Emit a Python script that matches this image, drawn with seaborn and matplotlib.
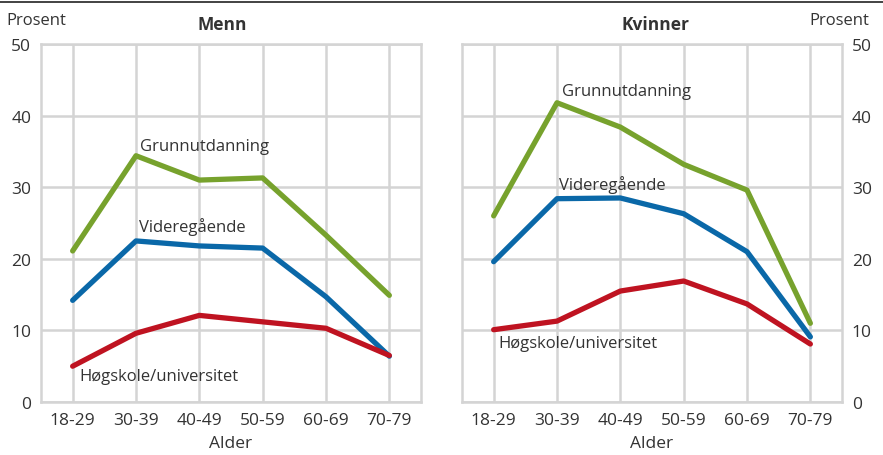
import numpy as np
import matplotlib.pyplot as plt
import matplotlib.lines as mlines
import seaborn as sns
import pandas as pd

# Data
ages = ["18-29", "30-39", "40-49", "50-59", "60-69", "70-79"]
levels = ["Grunnutdanning", "Videregående", "Høgskole/universitet"]

menn_grunn = [21.1, 34.4, 31.0, 31.3, 23.3, 14.9]
menn_vgs = [14.2, 22.5, 21.8, 21.5, 14.7, 6.4]
menn_hoy = [5.0, 9.6, 12.1, 11.2, 10.3, 6.5]

kvinner_grunn = [26.0, 41.8, 38.4, 33.2, 29.6, 11.0]
kvinner_vgs = [19.6, 28.4, 28.5, 26.3, 21.0, 9.1]
kvinner_hoy = [10.1, 11.3, 15.5, 16.9, 13.7, 8.1]

colors = {"Grunnutdanning": "#77a22d", "Videregående": "#0a68a8", "Høgskole/universitet": "#bf1321"}
text_color = "#333333"
grid_color = "#d4d4d4"


def make_frame(grunn, vgs, hoy):
    rows = []
    for level, vals in zip(levels, [grunn, vgs, hoy]):
        for age, v in zip(ages, vals):
            rows.append({"Alder": age, "Utdanning": level, "Prosent": v})
    return pd.DataFrame(rows)


sns.set_style("white")
plt.rcParams["font.family"] = ["Open Sans", "DejaVu Sans"]

fig = plt.figure(figsize=(8.83, 4.56), dpi=100)
ax_m = fig.add_axes([0.0464, 0.1162, 0.4304, 0.785])
ax_k = fig.add_axes([0.5232, 0.1162, 0.4304, 0.785])

panels = [
    (ax_m, make_frame(menn_grunn, menn_vgs, menn_hoy), "Menn", 0.476,
     {"Grunnutdanning": (1.07, 35.8), "Videregående": (1.05, 24.6), "Høgskole/universitet": (0.11, 3.6)}),
    (ax_k, make_frame(kvinner_grunn, kvinner_vgs, kvinner_hoy), "Kvinner", 0.508,
     {"Grunnutdanning": (1.08, 43.5), "Videregående": (1.03, 30.5), "Høgskole/universitet": (0.08, 8.3)}),
]

for ax, df, title, title_x, label_pos in panels:
    sns.lineplot(data=df, x="Alder", y="Prosent", hue="Utdanning", palette=colors,
                 linewidth=3.8, sort=False, legend=False, ax=ax, zorder=3)
    ax.set_xlim(-0.5, 5.5)
    ax.set_ylim(0, 50)
    ax.set_yticks([0, 10, 20, 30, 40, 50])
    ax.grid(True, color=grid_color, linewidth=1.8)
    ax.set_axisbelow(True)
    for sp in ax.spines.values():
        sp.set_color(grid_color)
        sp.set_linewidth(1.8)
    ax.tick_params(length=0, labelsize=12.5, colors=text_color, pad=7)
    ax.set_xlabel("Alder", fontsize=12.5, color=text_color, labelpad=5)
    ax.set_ylabel("")
    ax.set_title(title, x=title_x, fontsize=12.5, fontweight="bold", color=text_color, pad=11)
    for level, (x, y) in label_pos.items():
        ax.text(x, y, level, fontsize=12, color=text_color, va="center", ha="left")

ax_k.yaxis.tick_right()
ax_k.tick_params(axis="y", labelright=True, labelleft=False)

fig.text(0.007, 0.955, "Prosent", fontsize=12, color=text_color, va="center", ha="left")
fig.text(0.984, 0.955, "Prosent", fontsize=12, color=text_color, va="center", ha="right")
fig.add_artist(mlines.Line2D([0, 1], [0.994, 0.994], color="#222222", linewidth=1.2))

fig.savefig("out.png", dpi=100)
